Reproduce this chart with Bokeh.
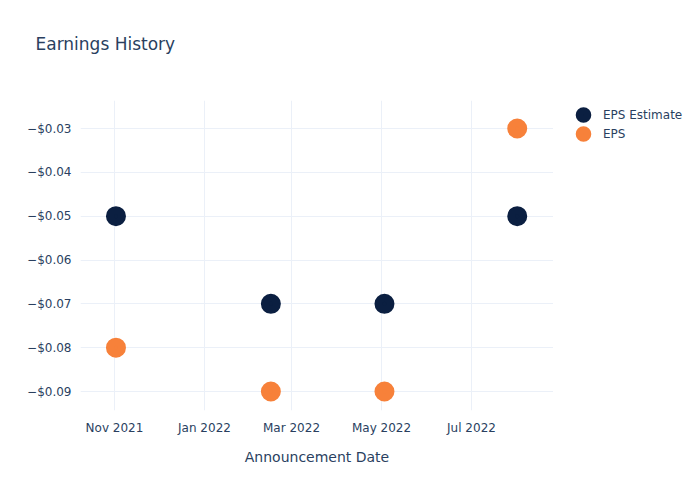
from datetime import datetime
from bokeh.plotting import figure
from bokeh.layouts import row
from bokeh.models import (ColumnDataSource, FixedTicker, CustomJSTickFormatter,
                          DatetimeTickFormatter, Range1d, Legend, LegendItem)
from bokeh.embed import file_html
from bokeh.resources import INLINE

# ---- data ----
dates = ["2021-11-02", "2022-02-15", "2022-05-03", "2022-08-01"]
eps_estimate = [-0.05, -0.07, -0.07, -0.05]
eps_actual = [-0.08, -0.09, -0.09, -0.03]
y_ticks = [-0.03, -0.04, -0.05, -0.06, -0.07, -0.08, -0.09]
x_tick_dates = ["2021-11-01", "2022-01-01", "2022-03-01", "2022-05-01", "2022-07-01"]

TEXT = "#2a3f5f"
GRID = "#ebf0f8"
NAVY = "#0b1f41"
ORANGE = "#f7813a"
FONT = "DejaVu Sans"

def to_dt(s):
    return datetime.strptime(s, "%Y-%m-%d")

def to_ms(d):
    return (d - datetime(1970, 1, 1)).total_seconds() * 1000.0

src = ColumnDataSource(dict(
    x=[to_dt(d) for d in dates],
    est=eps_estimate,
    eps=eps_actual,
))

p = figure(width=553, height=500, x_axis_type="datetime",
           output_backend="svg", toolbar_location=None,
           min_border_left=80, min_border_right=0,
           min_border_top=100, min_border_bottom=90,
           x_range=Range1d(datetime(2021, 10, 8, 23), datetime(2022, 8, 25, 14)),
           y_range=Range1d(-0.09433, -0.02361))

p.outline_line_color = None
p.background_fill_color = "white"
p.border_fill_color = "white"

# size + stroke width give a 20px dot; the stroke also enlarges the legend symbol
dot = dict(size=12, line_width=8)
r1 = p.scatter("x", "est", source=src, color=NAVY, line_color=NAVY, **dot)
r2 = p.scatter("x", "eps", source=src, color=ORANGE, line_color=ORANGE, **dot)

# title (second empty line lifts the first line inside the top band)
p.title.text = "Earnings History\n"
p.title.text_font = FONT
p.title.text_font_size = "17px"
p.title.text_font_style = "normal"
p.title.text_color = TEXT
p.title.align = "left"
p.title.offset = -45
p.title.standoff = 54

# x axis
xa = p.xaxis[0]
xa.ticker = FixedTicker(ticks=[to_ms(to_dt(d)) for d in x_tick_dates])
xa.formatter = DatetimeTickFormatter(months="%b %Y", days="%b %Y", years="%b %Y")
xa.axis_label = "Announcement Date"
xa.axis_label_text_font = FONT
xa.axis_label_text_font_size = "14px"
xa.axis_label_text_font_style = "normal"
xa.axis_label_text_color = TEXT
xa.axis_label_standoff = 11
xa.major_label_text_font = FONT
xa.major_label_text_font_size = "12px"
xa.major_label_text_color = TEXT
xa.major_label_standoff = 4
xa.axis_line_color = None
xa.major_tick_line_color = None
xa.minor_tick_line_color = None

# y axis
ya = p.yaxis[0]
ya.ticker = FixedTicker(ticks=y_ticks)
ya.formatter = CustomJSTickFormatter(code="""
    const s = Math.abs(tick).toFixed(2);
    return (tick < 0 ? "\u2212" : "") + "$" + s;
""")
ya.major_label_text_font = FONT
ya.major_label_text_font_size = "12px"
ya.major_label_text_color = TEXT
ya.major_label_standoff = 3
ya.axis_line_color = None
ya.major_tick_line_color = None
ya.minor_tick_line_color = None

p.xgrid.grid_line_color = GRID
p.ygrid.grid_line_color = GRID

# ---- legend strip on the right (same series; data lies outside its ranges) ----
lg = figure(width=147, height=500, output_backend="svg", toolbar_location=None,
            x_axis_type=None, y_axis_type=None,
            x_range=Range1d(0, 1), y_range=Range1d(0, 1),
            min_border=0, min_border_left=0, min_border_right=0,
            min_border_top=0, min_border_bottom=0)
lg.outline_line_color = None
lg.background_fill_color = "white"
lg.border_fill_color = "white"
l1 = lg.scatter("x", "est", source=src, color=NAVY, line_color=NAVY, **dot)
l2 = lg.scatter("x", "eps", source=src, color=ORANGE, line_color=ORANGE, **dot)

legend = Legend(items=[LegendItem(label="EPS Estimate", renderers=[l1]),
                       LegendItem(label="EPS", renderers=[l2])],
                location=(20, 267))
legend.label_text_font = FONT
legend.label_text_font_size = "12px"
legend.label_text_color = TEXT
legend.label_height = 19
legend.background_fill_alpha = 0
legend.border_line_color = None
legend.glyph_width = 20
legend.glyph_height = 19
legend.spacing = 0
legend.label_standoff = 10
legend.padding = 0
legend.margin = 0
lg.add_layout(legend, "center")

layout = row(p, lg, spacing=0)
open("out.html", "w").write(file_html(layout, INLINE))
